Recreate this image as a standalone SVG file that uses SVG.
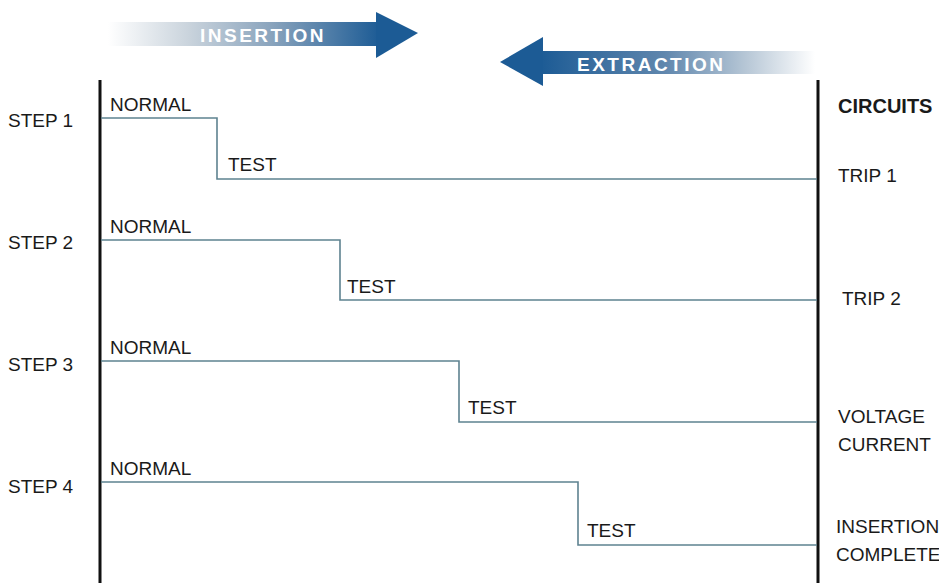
<svg xmlns="http://www.w3.org/2000/svg" width="939" height="583" viewBox="0 0 939 583">
<defs>
<linearGradient id="gIns" x1="108" y1="0" x2="380" y2="0" gradientUnits="userSpaceOnUse">
<stop offset="0" stop-color="#ffffff"/>
<stop offset="0.3" stop-color="#c9d3dc"/>
<stop offset="0.6" stop-color="#8aa4bd"/>
<stop offset="1" stop-color="#1c5b95"/>
</linearGradient>
<linearGradient id="gExt" x1="540" y1="0" x2="815" y2="0" gradientUnits="userSpaceOnUse">
<stop offset="0" stop-color="#1c5b95"/>
<stop offset="0.45" stop-color="#5f86ad"/>
<stop offset="0.75" stop-color="#b7c7d6"/>
<stop offset="1" stop-color="#ffffff"/>
</linearGradient>
<style>
.lbl{font-family:"Liberation Sans",Arial,sans-serif;font-size:19px;fill:#1a1a1a;}
.hdr{font-family:"Liberation Sans",Arial,sans-serif;font-size:19px;font-weight:bold;fill:#ffffff;letter-spacing:2.5px;}
.bold{font-weight:bold;font-size:20px;}
.rail{stroke:#111;stroke-width:3;fill:none;}
.step{stroke:#5e8290;stroke-width:1.6;fill:none;}
</style>
</defs>
<rect width="939" height="583" fill="#ffffff"/>

<g id="insertion-arrow">
<rect x="108" y="22" width="270" height="24" fill="url(#gIns)"/>
<polygon points="376,12 418,33 376,58" fill="#1c5b95"/>
<text class="hdr" x="200" y="42">INSERTION</text>
</g>

<g id="extraction-arrow">
<rect x="540" y="51" width="275" height="23" fill="url(#gExt)"/>
<polygon points="543,37 500,62 543,86" fill="#1c5b95"/>
<text class="hdr" x="577" y="71">EXTRACTION</text>
</g>

<g id="rails">
<line class="rail" x1="100" y1="80" x2="100" y2="583"/>
<line class="rail" x1="818" y1="80" x2="818" y2="583"/>
</g>

<g id="connectors">
<polyline class="step" points="101,118 217,118 217,179 817,179"/>
<polyline class="step" points="101,240 340,240 340,300 817,300"/>
<polyline class="step" points="101,361 459,361 459,422 817,422"/>
<polyline class="step" points="101,482 578,482 578,545 817,545"/>
</g>

<g id="step1">
<text class="lbl" x="8" y="127">STEP 1</text>
<text class="lbl" x="110" y="111">NORMAL</text>
<text class="lbl" x="228" y="171">TEST</text>
</g>
<g id="step2">
<text class="lbl" x="8" y="249">STEP 2</text>
<text class="lbl" x="110" y="233">NORMAL</text>
<text class="lbl" x="347" y="293">TEST</text>
</g>
<g id="step3">
<text class="lbl" x="8" y="371">STEP 3</text>
<text class="lbl" x="110" y="354">NORMAL</text>
<text class="lbl" x="468" y="414">TEST</text>
</g>
<g id="step4">
<text class="lbl" x="8" y="493">STEP 4</text>
<text class="lbl" x="110" y="475">NORMAL</text>
<text class="lbl" x="587" y="537">TEST</text>
</g>

<g id="circuits">
<text class="lbl bold" x="838" y="113">CIRCUITS</text>
<text class="lbl" x="838" y="182">TRIP 1</text>
<text class="lbl" x="842" y="305">TRIP 2</text>
<text class="lbl" x="838" y="423">VOLTAGE</text>
<text class="lbl" x="838" y="451">CURRENT</text>
<text class="lbl" x="836" y="533">INSERTION</text>
<text class="lbl" x="836" y="561">COMPLETE</text>
</g>
</svg>
